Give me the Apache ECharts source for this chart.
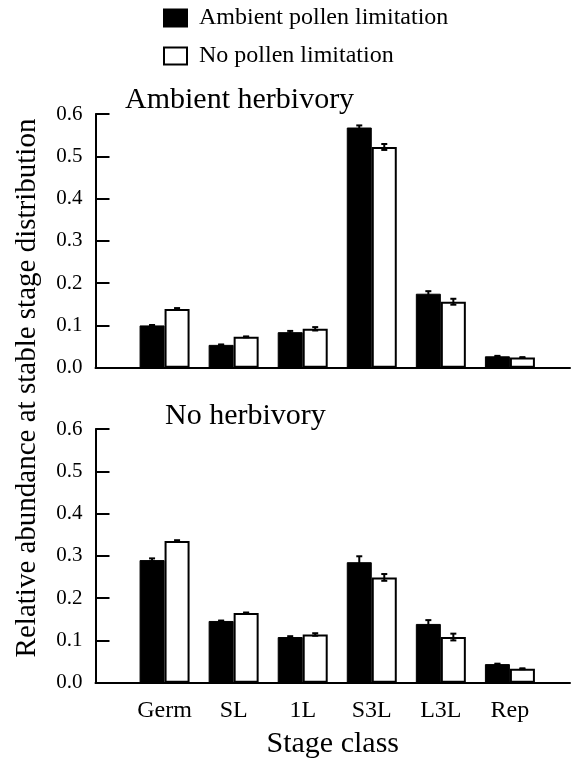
<!DOCTYPE html>
<html>
<head>
<meta charset="utf-8">
<script src="https://cdn.jsdelivr.net/npm/echarts@6/dist/echarts.min.js"></script>
<style>
  html, body { margin: 0; padding: 0; background: #fff; }
  #chart { width: 574px; height: 767px; }
</style>
</head>
<body>
<div id="chart"></div>
<script>
// stage classes
const stages = ['Germ', 'SL', '1L', 'S3L', 'L3L', 'Rep'];
const yTicks = [0, 0.1, 0.2, 0.3, 0.4, 0.5, 0.6];

// ambient herbivory panel
const ambHerbAmbPollen    = [0.100, 0.054, 0.084, 0.568, 0.175, 0.027];
const ambHerbAmbPollenErr = [0.001, 0.001, 0.003, 0.005, 0.006, 0.001];
const ambHerbNoPollen     = [0.139, 0.073, 0.092, 0.522, 0.156, 0.024];
const ambHerbNoPollenErr  = [0.002, 0.001, 0.004, 0.007, 0.007, 0.001];

// no herbivory panel
const noHerbAmbPollen     = [0.290, 0.146, 0.108, 0.285, 0.139, 0.044];
const noHerbAmbPollenErr  = [0.004, 0.001, 0.002, 0.014, 0.009, 0.001];
const noHerbNoPollen      = [0.335, 0.165, 0.114, 0.249, 0.108, 0.033];
const noHerbNoPollenErr   = [0.002, 0.001, 0.003, 0.008, 0.008, 0.001];

const FONT = '"Liberation Serif", "DejaVu Serif", serif';
const barW = 25;

function pairs(vals) {
    return vals.map((v, i) => [i, v]);
}
function triples(vals, errs) {
    return vals.map((v, i) => [i, v, errs[i]]);
}

// error bar with small caps, shifted onto the bar centre
function errRender(shift) {
    return function (params, api) {
        let i = api.value(0), v = api.value(1), e = api.value(2);
        let hi = api.coord([i, v + e]);
        let lo = api.coord([i, v - e]);
        let x = hi[0] + shift;
        let style = { stroke: '#000', lineWidth: 2 };
        return {
            type: 'group',
            children: [
                { type: 'line', shape: { x1: x, y1: hi[1], x2: x, y2: lo[1] }, style: style },
                { type: 'line', shape: { x1: x - 3, y1: hi[1], x2: x + 3, y2: hi[1] }, style: style },
                { type: 'line', shape: { x1: x - 3, y1: lo[1], x2: x + 3, y2: lo[1] }, style: style }
            ]
        };
    };
}

function xAxisCfg(gridIndex, showLabels) {
    return {
        type: 'value', gridIndex: gridIndex,
        min: -1, max: 5.87, interval: 1,
        splitLine: { show: false },
        axisTick: { show: false },
        axisLine: { onZero: false, lineStyle: { color: '#000', width: 2 } },
        axisLabel: {
            show: showLabels, showMaxLabel: false,
            color: '#000', fontSize: 24, fontFamily: FONT, margin: 16,
            formatter: v => stages[v] || ''
        },
        name: showLabels ? 'Stage class' : '',
        nameLocation: 'middle', nameGap: 46,
        nameTextStyle: { color: '#000', fontSize: 30, fontFamily: FONT }
    };
}

function yAxisCfg(gridIndex) {
    return {
        type: 'value', gridIndex: gridIndex,
        min: yTicks[0], max: yTicks[yTicks.length - 1], interval: 0.1,
        splitLine: { show: false },
        axisLine: { show: true, onZero: false, lineStyle: { color: '#000', width: 2 } },
        axisTick: { show: true, inside: true, length: 14, lineStyle: { color: '#000', width: 2 } },
        axisLabel: {
            color: '#000', fontSize: 21, fontFamily: FONT, margin: 13,
            formatter: v => v.toFixed(1)
        }
    };
}

const blackStyle = { color: '#000', borderColor: '#000', borderWidth: 1 };
const whiteStyle = { color: '#fff', borderColor: '#000', borderWidth: 2 };

function barSeries(name, vals, idx, style) {
    return {
        name: name, type: 'bar',
        xAxisIndex: idx, yAxisIndex: idx,
        data: pairs(vals),
        barWidth: barW, barGap: '0%',
        itemStyle: style,
        emphasis: { disabled: true },
        z: 2
    };
}

function errSeries(vals, errs, idx, shift) {
    return {
        type: 'custom',
        xAxisIndex: idx, yAxisIndex: idx,
        data: triples(vals, errs),
        renderItem: errRender(shift),
        encode: { x: 0, y: 1 },
        z: 5
    };
}

const nameA = 'Ambient pollen limitation';
const nameB = 'No pollen limitation';

let myChart = echarts.init(document.getElementById('chart'));

let option = {
    animation: false,
    backgroundColor: '#fff',
    textStyle: { fontFamily: FONT },
    title: [
        { text: 'Ambient herbivory', left: 125, top: 85, padding: 0,
          textStyle: { fontSize: 30, fontWeight: 'normal', color: '#000', fontFamily: FONT } },
        { text: 'No herbivory', left: 165, top: 401, padding: 0,
          textStyle: { fontSize: 30, fontWeight: 'normal', color: '#000', fontFamily: FONT } }
    ],
    legend: {
        data: [nameA, nameB],
        orient: 'vertical',
        left: 163, top: 6,
        padding: 0,
        icon: 'rect',
        itemWidth: 23, itemHeight: 17,
        itemGap: 14,
        selectedMode: false,
        textStyle: { fontSize: 24, color: '#000', fontFamily: FONT, padding: [0, 0, 0, 7] }
    },
    graphic: [{
        type: 'text',
        x: 27, y: 388,
        rotation: Math.PI / 2,
        style: {
            text: 'Relative abundance at stable stage distribution',
            font: '29px "Liberation Serif"',
            fill: '#000',
            align: 'center', verticalAlign: 'middle',
            textAlign: 'center', textVerticalAlign: 'middle'
        }
    }],
    grid: [
        { left: 95.5, top: 114, width: 474.5, height: 253.7 },
        { left: 95.5, top: 429, width: 474.5, height: 253.7 }
    ],
    xAxis: [xAxisCfg(0, false), xAxisCfg(1, true)],
    yAxis: [yAxisCfg(0), yAxisCfg(1)],
    series: [
        barSeries(nameA, ambHerbAmbPollen, 0, blackStyle),
        barSeries(nameB, ambHerbNoPollen, 0, whiteStyle),
        barSeries(nameA, noHerbAmbPollen, 1, blackStyle),
        barSeries(nameB, noHerbNoPollen, 1, whiteStyle),
        errSeries(ambHerbAmbPollen, ambHerbAmbPollenErr, 0, -barW / 2),
        errSeries(ambHerbNoPollen, ambHerbNoPollenErr, 0, barW / 2),
        errSeries(noHerbAmbPollen, noHerbAmbPollenErr, 1, -barW / 2),
        errSeries(noHerbNoPollen, noHerbNoPollenErr, 1, barW / 2)
    ]
};

myChart.setOption(option);
</script>
</body>
</html>
